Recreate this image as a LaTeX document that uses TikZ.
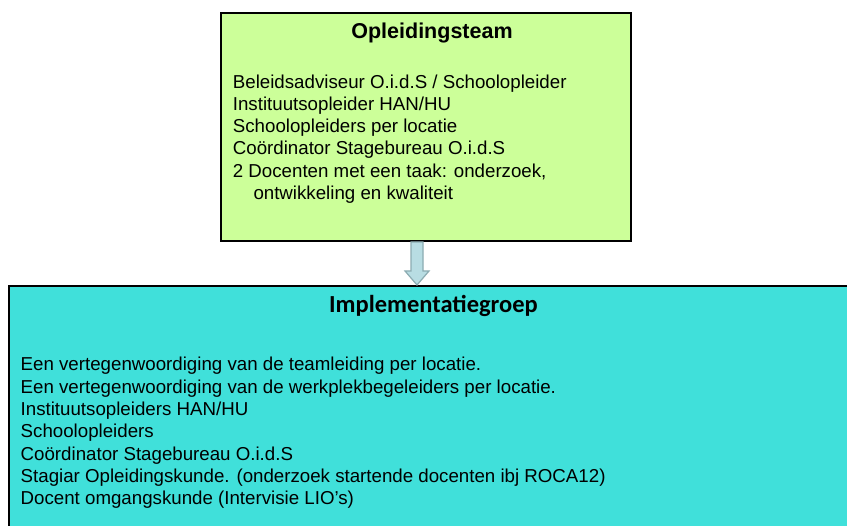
\documentclass[tikz,border=0pt]{standalone}
\usepackage{fontspec}
\setmainfont{Liberation Sans}
\newfontfamily\titlefont{Carlito}
\definecolor{boxgreen}{RGB}{204,255,153}
\definecolor{boxcyan}{RGB}{64,224,218}
\definecolor{arrfill}{RGB}{184,221,227}
\definecolor{arrline}{RGB}{140,172,178}
\tikzset{
  panel/.style={draw=black, line width=2pt, rectangle, anchor=north west, inner sep=0pt},
  bodytext/.style={anchor=base west, inner sep=0pt, font=\fontsize{18.7}{22}\selectfont},
  toptitle/.style={anchor=base, inner sep=0pt, font=\fontsize{21.5}{25}\selectfont\bfseries},
  bottitle/.style={anchor=base, inner sep=0pt, font=\fontsize{24.5}{28}\selectfont\titlefont\bfseries},
  downarrow/.style={fill=arrfill, draw=arrline, line width=1.2pt, line join=miter}
}
\begin{document}
\begin{tikzpicture}[x=1pt,y=-1pt]
\useasboundingbox (0,0) rectangle (847,526);
\clip (0,0) rectangle (847,526);
\fill[white] (0,0) rectangle (847,526);
% boxes
\node[panel, fill=boxgreen, minimum width=410pt, minimum height=228pt] (top) at (220,12) {};
\node[panel, fill=boxcyan, minimum width=870pt, minimum height=270pt] (bot) at (8,285) {};
% arrow
\coordinate (as) at ([xshift=-9pt]top.south);
\coordinate (ae) at (as |- bot.north);
\draw[downarrow] ([xshift=-6pt]as) -- ([xshift=6pt]as) -- ([xshift=6pt,yshift=14pt]ae)
  -- ([xshift=12pt,yshift=14pt]ae) -- (ae) -- ([xshift=-12pt,yshift=14pt]ae)
  -- ([xshift=-6pt,yshift=14pt]ae) -- cycle;
% top texts
\node[toptitle] (tt) at (432,38.3) {Opleidingsteam};
\node[bodytext] (t1) at (232.7,88.3) {Beleidsadviseur O.i.d.S / Schoolopleider};
\node[bodytext] (t2) at (232.7,110.5) {Instituutsopleider HAN/HU};
\node[bodytext] (t3) at (232.7,132.7) {Schoolopleiders per locatie};
\node[bodytext] (t4) at (232.7,154.9) {Coördinator Stagebureau O.i.d.S};
\node[bodytext] (t5) at (232.7,177.1) {2 Docenten met een taak: onderzoek,};
\node[bodytext] (t6) at (253.3,199.3) {ontwikkeling en kwaliteit};
% bottom texts
\node[bottitle] (bt) at (433.5,313) {Implementatiegroep};
\node[bodytext] (b1) at (20.5,371) {Een vertegenwoordiging van de teamleiding per locatie.};
\node[bodytext] (b2) at (20.5,393.3) {Een vertegenwoordiging van de werkplekbegeleiders per locatie.};
\node[bodytext] (b3) at (20.5,415.6) {Instituutsopleiders HAN/HU};
\node[bodytext] (b4) at (20.5,437.9) {Schoolopleiders};
\node[bodytext] (b5) at (20.5,460.2) {Coördinator Stagebureau O.i.d.S};
\node[bodytext] (b6) at (20.5,482.5) {Stagiar Opleidingskunde. (onderzoek startende docenten ibj ROCA12)};
\node[bodytext] (b7) at (20.5,504.8) {Docent omgangskunde (Intervisie LIO’s)};
\end{tikzpicture}
\end{document}
